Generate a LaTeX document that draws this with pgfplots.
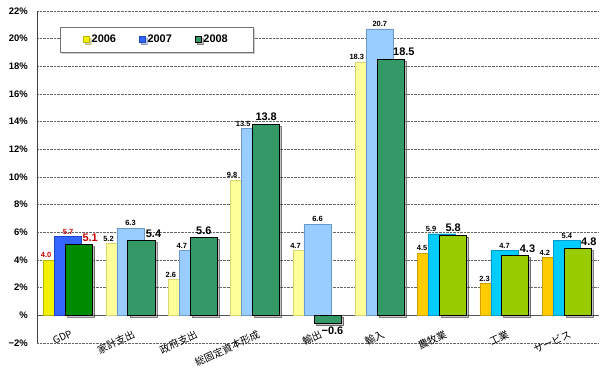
\documentclass[border=0pt]{standalone}
\usepackage{fontspec}
\setmainfont{Liberation Sans}
\newfontfamily\jp{Noto Sans CJK JP}
\usepackage{pgfplots}
\pgfplotsset{compat=1.18}
\usetikzlibrary{shadows}
\definecolor{gA}{HTML}{F2F200}\definecolor{gAd}{HTML}{B8B800}
\definecolor{gB}{HTML}{3366FF}\definecolor{gBd}{HTML}{1F45C0}
\definecolor{gC}{HTML}{008A00}
\definecolor{mA}{HTML}{FFFF99}\definecolor{mAd}{HTML}{D8D870}
\definecolor{mB}{HTML}{99CCFF}\definecolor{mBd}{HTML}{6A9ACC}
\definecolor{mC}{HTML}{339966}
\definecolor{lA}{HTML}{FFCC00}\definecolor{lAd}{HTML}{D0A000}
\definecolor{lB}{HTML}{00CCFF}\definecolor{lBd}{HTML}{0099CC}
\definecolor{lC}{HTML}{99CC00}
\definecolor{lblred}{HTML}{CC0000}
\begin{document}
\begin{tikzpicture}
\useasboundingbox (0,0) rectangle (600bp,372bp);
\begin{axis}[
  at={(37bp,29bp)}, anchor=south west,
  width=561bp, height=332bp, scale only axis,
  xmin=-0.5, xmax=8.5, ymin=-2, ymax=22,
  ytick={-2,0,2,4,6,8,10,12,14,16,18,20,22},
  yticklabels={−2\%,\%,2\%,4\%,6\%,8\%,10\%,12\%,14\%,16\%,18\%,20\%,22\%},
  yticklabel style={font=\bfseries\fontsize{9.5}{10}\selectfont, inner sep=0pt},
  yticklabel shift=9bp,
  xtick={0,1,2,3,4,5,6,7,8},
  xticklabels={GDP,家計支出,政府支出,総固定資本形成,輸出,輸入,農牧業,工業,サービス},
  xticklabel style={font=\jp\fontsize{10}{10}\selectfont, rotate=25, anchor=north east, inner sep=0pt, xshift=2bp},
  xticklabel shift=-17bp,
  axis line style={draw=none},
  tick style={draw=none},
  ymajorgrids,
  grid style={black!60, densely dotted, line width=0.6bp},
  ybar, bar width=27bp,
  nodes near coords, point meta=explicit symbolic,
  visualization depends on={value \thisrow{dx} \as \dx},
  every node near coord/.append style={xshift=\dx*1bp, font=\bfseries\fontsize{7.5}{7.5}\selectfont, inner sep=2bp},
  legend columns=3,
  legend image code/.code={\draw[#1, line width=0.5bp] (0bp,-3bp) rectangle (6bp,3bp);},
  legend style={at={(0.041,0.952)}, anchor=north west, draw=black!55, fill=white,
    drop shadow={shadow xshift=2bp, shadow yshift=-2bp, opacity=0.4},
    font=\bfseries\fontsize{11}{11}\selectfont, inner xsep=23bp, inner ysep=6bp,
    /tikz/every even column/.append style={column sep=21bp}},
]
\draw[black!40, line width=0.8bp] (rel axis cs:0,0) -- (rel axis cs:1,0) -- (rel axis cs:1,1);
\draw[black!65, line width=0.8bp] (axis cs:-0.5,0) -- (axis cs:8.5,0);
\addlegendimage{fill=gA, draw=gAd}\addlegendentry{2006}
\addlegendimage{fill=gB, draw=gBd}\addlegendentry{2007}
\addlegendimage{fill=mC, draw=black}\addlegendentry{2008}
% 2006
\addplot[forget plot, fill=gA, draw=gAd, bar shift=-11bp, every node near coord/.append style={text=lblred}]
 table[x=x,y=y,meta=l]{
x y l dx
0 4.0 4.0 -11
};
\addplot[forget plot, fill=mA, draw=mAd, bar shift=-11bp] table[x=x,y=y,meta=l]{
x y l dx
1 5.2 5.2 -11
2 2.6 2.6 -11
3 9.8 9.8 -12
4 4.7 4.7 -11
5 18.3 18.3 -12
};
\addplot[forget plot, fill=lA, draw=lAd, bar shift=-11bp] table[x=x,y=y,meta=l]{
x y l dx
6 4.5 4.5 -9
7 2.3 2.3 -9
8 4.2 4.2 -11
};
% 2007
\addplot[forget plot, fill=gB, draw=gBd, bar shift=0bp, every node near coord/.append style={text=lblred}]
 table[x=x,y=y,meta=l]{
x y l dx
0 5.7 5.7 0
};
\addplot[forget plot, fill=mB, draw=mBd, bar shift=0bp] table[x=x,y=y,meta=l]{
x y l dx
1 6.3 6.3 0
2 4.7 4.7 -11
3 13.5 13.5 -12
4 6.6 6.6 0
5 20.7 20.7 0
};
\addplot[forget plot, fill=lB, draw=lBd, bar shift=0bp] table[x=x,y=y,meta=l]{
x y l dx
6 5.9 5.9 -11
7 4.7 4.7 0
8 5.4 5.4 0
};
% 2008
\addplot[forget plot, fill=gC, draw=black, line width=1bp, bar shift=11bp,
  drop shadow={shadow xshift=2bp, shadow yshift=-2bp, opacity=0.45},
  every node near coord/.append style={text=lblred, font=\bfseries\fontsize{11}{11}\selectfont, inner sep=3bp}]
 table[x=x,y=y,meta=l]{
x y l dx
0 5.1 5.1 11
};
\addplot[forget plot, fill=mC, draw=black, line width=1bp, bar shift=11bp,
  drop shadow={shadow xshift=2bp, shadow yshift=-2bp, opacity=0.45},
  every node near coord/.append style={font=\bfseries\fontsize{11}{11}\selectfont, inner sep=3bp}]
 table[x=x,y=y,meta=l]{
x y l dx
1 5.4 5.4 12
2 5.6 5.6 0
3 13.8 13.8 0
5 18.5 18.5 13
};
\addplot[forget plot, fill=mC, draw=black, line width=1bp, bar shift=11bp,
  drop shadow={shadow xshift=2bp, shadow yshift=-2bp, opacity=0.45},
  every node near coord/.append style={font=\bfseries\fontsize{11}{11}\selectfont, inner sep=3bp, anchor=north}]
 table[x=x,y=y,meta=l]{
x y l dx
4 -0.6 −0.6 4
};
\addplot[forget plot, fill=lC, draw=black, line width=1bp, bar shift=11bp,
  drop shadow={shadow xshift=2bp, shadow yshift=-2bp, opacity=0.45},
  every node near coord/.append style={font=\bfseries\fontsize{11}{11}\selectfont, inner sep=3bp}]
 table[x=x,y=y,meta=l]{
x y l dx
6 5.8 5.8 0
7 4.3 4.3 12
8 4.8 4.8 11
};
\draw[black!75, line width=0.9bp] (rel axis cs:0,0) -- (rel axis cs:0,1);
\end{axis}
\end{tikzpicture}
\end{document}
